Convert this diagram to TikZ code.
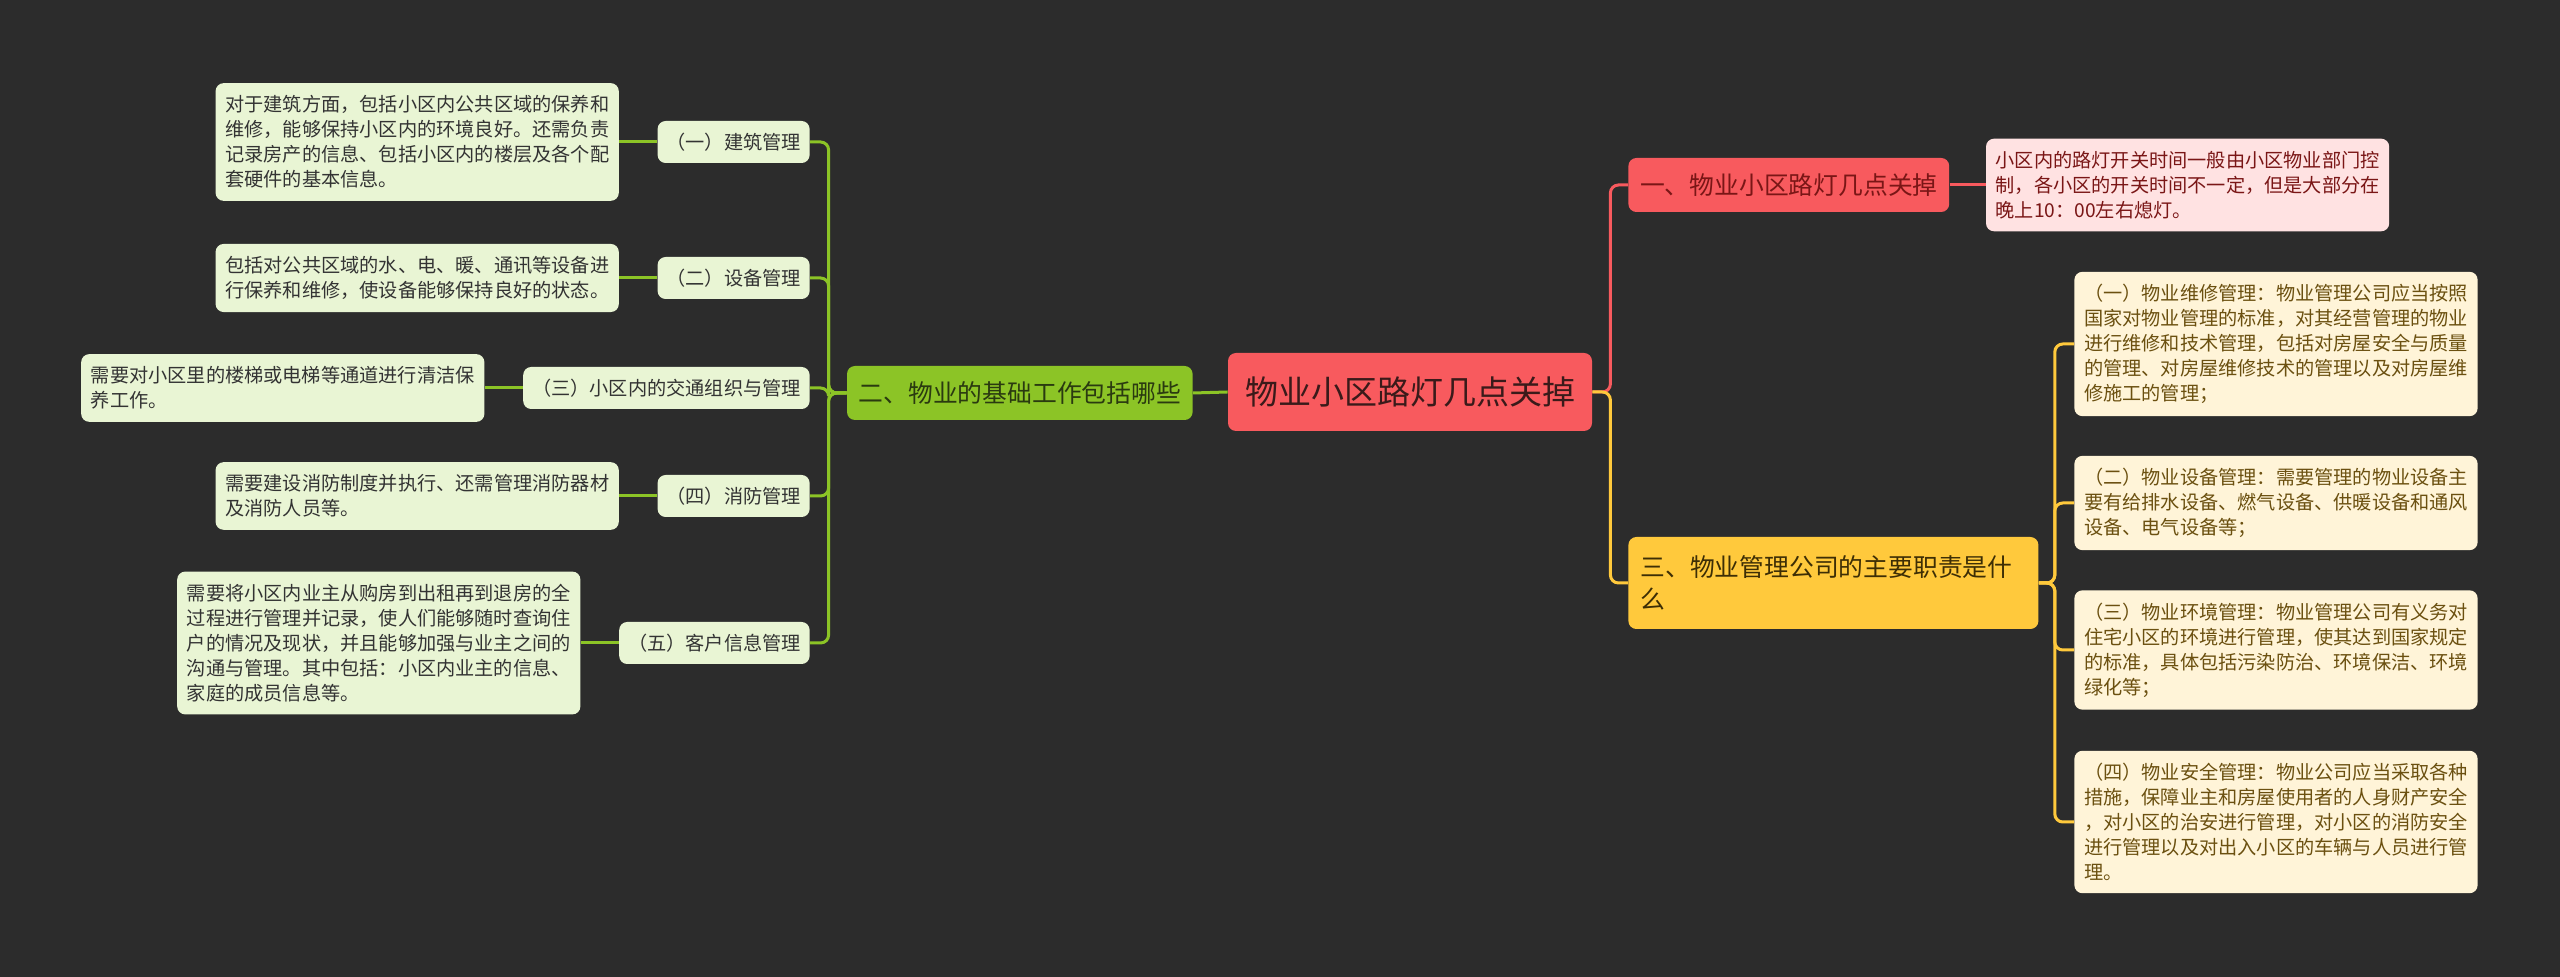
\documentclass[tikz,border=0pt]{standalone}
\usepackage{fontspec}
\newfontfamily\cjk{Noto Sans CJK SC}
\usetikzlibrary{positioning}
\definecolor{bgdark}{HTML}{2C2C2C}
\definecolor{rootred}{HTML}{F85A5E}
\definecolor{roottext}{HTML}{3A1A1A}
\definecolor{lime}{HTML}{8CC426}
\definecolor{limetext}{HTML}{2A3A10}
\definecolor{palegreen}{HTML}{E9F5D4}
\definecolor{darktext}{HTML}{333333}
\definecolor{pinkfill}{HTML}{FFE2E2}
\definecolor{pinktext}{HTML}{7A1616}
\definecolor{gold}{HTML}{FFC93C}
\definecolor{goldtext}{HTML}{3D2E05}
\definecolor{cream}{HTML}{FFF4D8}
\definecolor{creamtext}{HTML}{6B5010}

\begin{document}
\begin{tikzpicture}[x=0.5pt, y=-0.5pt,
  rootbox/.style={fill=rootred, text=roottext, rounded corners=4pt, inner xsep=8.5pt, minimum height=39pt, font=\cjk\fontsize{16.5}{20}\selectfont},
  branchbox/.style={rounded corners=4pt, inner xsep=5.8pt, minimum height=27pt, font=\cjk\fontsize{12.4}{16}\selectfont},
  subbox/.style={fill=palegreen, text=darktext, rounded corners=4pt, inner xsep=4.4pt, minimum height=21pt, font=\cjk\fontsize{9.6}{12.5}\selectfont},
  leafbox/.style={rounded corners=4pt, text width=192pt, align=left, inner xsep=4.8pt, inner ysep=6.2pt, font=\cjk\fontsize{9.6}{12.5}\selectfont},
  link/.style={line width=1.5pt, rounded corners=4pt}]
\fill[bgdark] (0,0) rectangle (2560,977);
\useasboundingbox (0,0) rectangle (2560,977);

% Centre
\node[rootbox] (root) at (1410,392) {物业小区路灯几点关掉};

% Left branch: 基础工作
\node[branchbox, fill=lime, text=limetext, anchor=east] (jichu) at (1193,393) {二、物业的基础工作包括哪些};
\node[subbox, anchor=east] (jianzhu) at (810,142) {（一）建筑管理};
\node[subbox, anchor=east] (shebei) at (810,278) {（二）设备管理};
\node[subbox, anchor=east] (jiaotong) at (810,388) {（三）小区内的交通组织与管理};
\node[subbox, anchor=east] (xiaofang) at (810,496) {（四）消防管理};
\node[subbox, anchor=east] (kehu) at (810,643) {（五）客户信息管理};
\node[leafbox, fill=palegreen, text=darktext, left=19pt of jianzhu] (jianzhutxt) {对于建筑方面，包括小区内公共区域的保养和\\维修，能够保持小区内的环境良好。还需负责\\记录房产的信息、包括小区内的楼层及各个配\\套硬件的基本信息。};
\node[leafbox, fill=palegreen, text=darktext, left=19pt of shebei] (shebeitxt) {包括对公共区域的水、电、暖、通讯等设备进\\行保养和维修，使设备能够保持良好的状态。};
\node[leafbox, fill=palegreen, text=darktext, left=19pt of jiaotong] (jiaotongtxt) {需要对小区里的楼梯或电梯等通道进行清洁保\\养工作。};
\node[leafbox, fill=palegreen, text=darktext, left=19pt of xiaofang] (xiaofangtxt) {需要建设消防制度并执行、还需管理消防器材\\及消防人员等。};
\node[leafbox, fill=palegreen, text=darktext, left=19pt of kehu] (kehutxt) {需要将小区内业主从购房到出租再到退房的全\\过程进行管理并记录，使人们能够随时查询住\\户的情况及现状，并且能够加强与业主之间的\\沟通与管理。其中包括：小区内业主的信息、\\家庭的成员信息等。};

\draw[link, lime] (root.west) -- (jichu.east);
\foreach \sub in {jianzhu, shebei, jiaotong, xiaofang, kehu} {
  \draw[link, lime] (jichu.west) -- ++(-18,0) |- (\sub.east);
  \draw[link, lime] (\sub.west) -- (\sub txt.east);
}

% Right branch: 几点关掉
\node[branchbox, fill=rootred, text=pinktext, anchor=west] (guandeng) at (1628,185) {一、物业小区路灯几点关掉};
\node[leafbox, fill=pinkfill, text=pinktext, right=18pt of guandeng] (shijian) {小区内的路灯开关时间一般由小区物业部门控\\制，各小区的开关时间不一定，但是大部分在\\晚上10：00左右熄灯。};
\draw[link, rootred] (root.east) -- ++(18,0) |- (guandeng.west);
\draw[link, rootred] (guandeng.east) -- (shijian.west);

% Right branch: 主要职责
\node[branchbox, fill=gold, text=goldtext, anchor=west, text width=193pt, align=left, inner xsep=6pt, minimum height=46pt, font=\cjk\fontsize{12.4}{16}\selectfont] (zhize) at (1628,583) {三、物业管理公司的主要职责是什\\么};
\node[leafbox, fill=cream, text=creamtext, anchor=west] (weixiu) at (2074,344) {（一）物业维修管理：物业管理公司应当按照\\国家对物业管理的标准，对其经营管理的物业\\进行维修和技术管理，包括对房屋安全与质量\\的管理、对房屋维修技术的管理以及对房屋维\\修施工的管理；};
\node[leafbox, fill=cream, text=creamtext, anchor=west] (sheshi) at (2074,503) {（二）物业设备管理：需要管理的物业设备主\\要有给排水设备、燃气设备、供暖设备和通风\\设备、电气设备等；};
\node[leafbox, fill=cream, text=creamtext, anchor=west] (huanjing) at (2074,650) {（三）物业环境管理：物业管理公司有义务对\\住宅小区的环境进行管理，使其达到国家规定\\的标准，具体包括污染防治、环境保洁、环境\\绿化等；};
\node[leafbox, fill=cream, text=creamtext, anchor=west] (anquan) at (2074,822) {（四）物业安全管理：物业公司应当采取各种\\措施，保障业主和房屋使用者的人身财产安全\\，对小区的治安进行管理，对小区的消防安全\\进行管理以及对出入小区的车辆与人员进行管\\理。};
\draw[link, gold] (root.east) -- ++(18,0) |- (zhize.west);
\foreach \duty in {weixiu, sheshi, huanjing, anquan}
  \draw[link, gold] (zhize.east) -- ++(16,0) |- (\duty.west);
\end{tikzpicture}
\end{document}
